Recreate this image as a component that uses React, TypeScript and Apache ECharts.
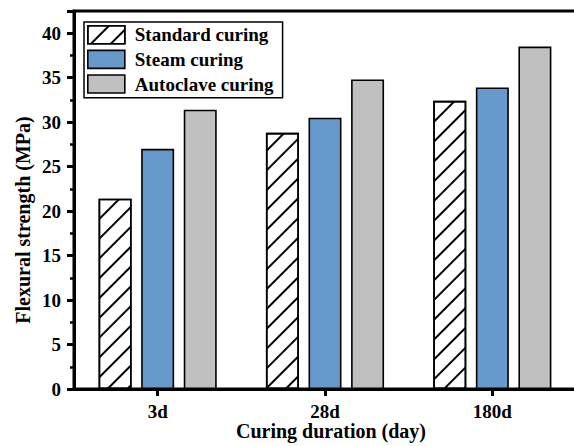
import React, { useEffect, useRef } from "react";
import * as echarts from "echarts";

const categories = ["3d", "28d", "180d"];
const seriesNames = ["Standard curing", "Steam curing", "Autoclave curing"];
const standardValues = [21.4, 28.8, 32.4];
const steamValues = [27.0, 30.5, 33.9];
const autoclaveValues = [31.4, 34.8, 38.5];
const yTicks = { min: 0, max: 42.5, interval: 5 };

const FONT = '"Times New Roman", "Liberation Serif", serif';

export default function App() {
  const ref = useRef<HTMLDivElement>(null);
  useEffect(() => {
    if (!ref.current) return;
    const chart = echarts.init(ref.current, undefined, { renderer: "svg" });
    const border = { borderColor: "#000", borderWidth: 1.6 };
    chart.setOption({
      animation: false,
      backgroundColor: "#fff",
      grid: {
        left: 74,
        right: -2,
        top: 11,
        bottom: 57,
        show: true,
        borderColor: "#000",
        borderWidth: 3,
        containLabel: false,
        outerBoundsMode: "none",
      },
      legend: {
        orient: "vertical",
        left: 84,
        top: 22,
        padding: [3, 9, 4, 3],
        itemWidth: 37,
        itemHeight: 18,
        itemGap: 5,
        borderColor: "#000",
        borderWidth: 1.5,
        icon: "rect",
        itemStyle: { borderColor: "#000", borderWidth: 1.6 },
        textStyle: {
          fontFamily: FONT,
          fontWeight: "bold",
          fontSize: 19,
          color: "#000",
          padding: [0, 0, 0, 5],
          lineHeight: 18,
        },
        data: seriesNames,
      },
      xAxis: {
        type: "category",
        data: categories,
        name: "Curing duration (day)",
        nameLocation: "middle",
        nameGap: 34,
        nameMoveOverlap: false,
        nameTextStyle: {
          fontFamily: FONT,
          fontWeight: "bold",
          fontSize: 20,
          color: "#000",
          lineHeight: 16,
          padding: [0, 0, 0, 12],
        },
        axisLine: { show: true, lineStyle: { color: "#000", width: 3 } },
        axisTick: {
          show: true,
          alignWithLabel: true,
          length: 7,
          lineStyle: { color: "#000", width: 3 },
        },
        axisLabel: {
          fontFamily: FONT,
          fontWeight: "bold",
          fontSize: 19,
          color: "#000",
          lineHeight: 16,
          margin: 14,
        },
        splitLine: { show: false },
      },
      yAxis: {
        type: "value",
        min: yTicks.min,
        max: yTicks.max,
        interval: yTicks.interval,
        name: "Flexural strength (MPa)",
        nameLocation: "middle",
        nameGap: 41,
        nameMoveOverlap: false,
        nameRotate: 90,
        nameTextStyle: {
          fontFamily: FONT,
          fontWeight: "bold",
          fontSize: 20,
          color: "#000",
          padding: [0, 40, 0, 0],
        },
        axisLine: { show: true, lineStyle: { color: "#000", width: 3 } },
        axisTick: { show: true, length: 7, lineStyle: { color: "#000", width: 3 } },
        minorTick: { show: true, splitNumber: 2, length: 4, lineStyle: { color: "#000", width: 2.5 } },
        axisLabel: {
          fontFamily: FONT,
          fontWeight: "bold",
          fontSize: 19,
          color: "#000",
          margin: 13,
          showMaxLabel: false,
        },
        splitLine: { show: false },
      },
      series: [
        {
          name: seriesNames[0],
          type: "bar",
          data: standardValues,
          barWidth: 33,
          barGap: "29%",
          itemStyle: {
            color: "#fff",
            ...border,
            decal: {
              symbol: "rect",
              color: "#000",
              backgroundColor: "#fff",
              dashArrayX: [1, 0],
              dashArrayY: [1.6, 11.4],
              rotation: -Math.PI / 4,
            },
          },
        },
        {
          name: seriesNames[1],
          type: "bar",
          data: steamValues,
          barWidth: 33,
          barGap: "29%",
          itemStyle: { color: "#6699cc", ...border },
        },
        {
          name: seriesNames[2],
          type: "bar",
          data: autoclaveValues,
          barWidth: 33,
          barGap: "29%",
          itemStyle: { color: "#c0c0c0", ...border },
        },
      ],
    });
    return () => chart.dispose();
  }, []);
  return (
    <div
      ref={ref}
      style={{ position: "fixed", left: 0, top: 0, width: 574, height: 446, background: "#fff" }}
    />
  );
}
